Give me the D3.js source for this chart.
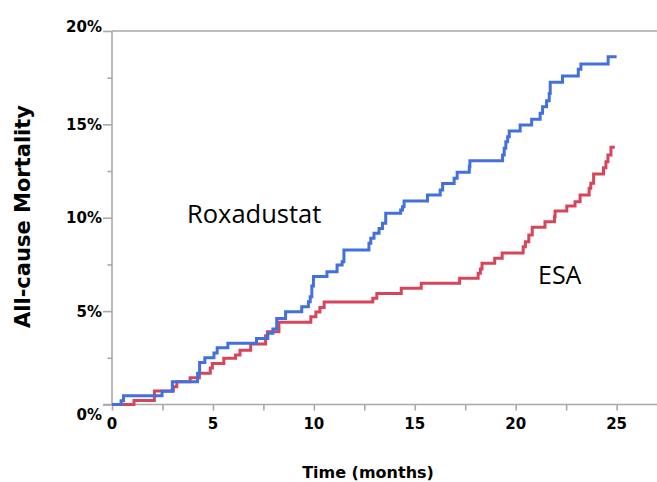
<!DOCTYPE html>
<html>
<head>
<meta charset="utf-8">
<script src="https://cdn.jsdelivr.net/npm/d3@7"></script>
<style>
  html, body { margin: 0; padding: 0; background: #fff; }
  svg { display: block; }
</style>
</head>
<body>
<svg id="chart" width="657" height="482"></svg>
<script>
// Cumulative all-cause mortality (%) by month, Kaplan-Meier style steps
const roxaTimes = [0, 0.45, 0.57, 2.48, 2.99, 4.24, 4.34, 4.6, 5.05, 5.21, 5.74, 7.16, 7.72, 7.97, 8.16, 8.6,
  9.4, 9.73, 9.82, 9.9, 9.98, 10.65, 11.15, 11.4, 11.49, 12.73, 12.82, 12.98, 13.23, 13.4, 13.56,
  14.3, 14.39, 14.47, 15.63, 16.26, 16.38, 16.95, 17.1, 17.7, 17.73, 19.35, 19.43, 19.51, 19.6, 19.68,
  20.22, 20.79, 21.21, 21.33, 21.53, 21.66, 21.71, 22.32, 23.1, 23.23, 24.58, 25.0];
const roxaMortality = [0, 0.2, 0.47, 0.71, 1.22, 1.67, 2.25, 2.5, 2.76, 3.04, 3.28, 3.54, 3.81, 4.04, 4.61, 4.97,
  5.23, 5.5, 5.77, 6.34, 6.85, 7.11, 7.47, 7.65, 8.27, 8.63, 8.9, 9.17, 9.43, 9.7, 10.24,
  10.41, 10.59, 10.9, 11.22, 11.49, 11.84, 12.11, 12.43, 12.73, 13.05, 13.36, 13.72, 14.07, 14.34, 14.65,
  14.97, 15.27, 15.59, 15.95, 16.27, 16.66, 17.25, 17.59, 17.95, 18.23, 18.62, 18.62];

const esaTimes = [0, 1.09, 2.1, 3.04, 3.21, 3.87, 4.33, 4.87, 4.97, 5.54, 6.12, 6.34, 6.87, 7.61, 7.7, 8.27,
  9.85, 10.1, 10.3, 10.51, 12.92, 13.12, 14.33, 15.32, 17.22, 18.14, 18.25, 18.33, 18.96, 19.33,
  20.37, 20.48, 20.65, 20.82, 21.45, 21.92, 21.95, 22.53, 22.94, 23.19, 23.64, 23.72, 23.86,
  24.35, 24.47, 24.57, 24.72, 24.91];
const esaMortality = [0, 0.21, 0.72, 0.95, 1.22, 1.43, 1.67, 1.95, 2.2, 2.47, 2.65, 2.91, 3.24, 3.68, 3.9, 4.4,
  4.7, 4.95, 5.19, 5.49, 5.69, 5.95, 6.22, 6.49, 6.76, 7.03, 7.26, 7.56, 7.83, 8.11,
  8.45, 8.72, 9.08, 9.49, 9.79, 10.06, 10.36, 10.63, 10.86, 11.22, 11.58, 11.85, 12.34,
  12.68, 13.0, 13.36, 13.77, 13.77];

const xMajorTicks = [0, 5, 10, 15, 20, 25];
const xMinorTicks = [2.5, 7.5, 12.5, 17.5, 22.5];
const yMajorTicks = [0, 5, 10, 15, 20];
const yMinorTicks = [2.5, 7.5, 12.5, 17.5];
const yTickLabels = ["0%", "5%", "10%", "15%", "20%"];

const seriesNames = ["Roxadustat", "ESA"];
const seriesColors = ["#4270dd", "#d6455a"];

const svg = d3.select("#chart");
const axisColor = "#a9a9a9";

const x = d3.scaleLinear().domain([0, 27]).range([112, 657]);
const y = d3.scaleLinear().domain([0, 20]).range([404.5, 31]);

// frame: top border
svg.append("line")
  .attr("x1", x(0)).attr("x2", 657)
  .attr("y1", y(20)).attr("y2", y(20))
  .attr("stroke", axisColor).attr("stroke-width", 1.6);

// y axis
const yAxisMajor = d3.axisLeft(y).tickValues(yMajorTicks).tickSize(9).tickFormat("");
const yAxisMinor = d3.axisLeft(y).tickValues(yMinorTicks).tickSize(4.5).tickFormat("");
const gy = svg.append("g").attr("transform", `translate(${x(0)},0)`).call(yAxisMajor);
svg.append("g").attr("transform", `translate(${x(0)},0)`).call(yAxisMinor).select(".domain").remove();
gy.select(".domain").attr("d", `M0,${y(0)}V${y(20)}`);

// x axis
const xAxisMajor = d3.axisBottom(x).tickValues(xMajorTicks).tickSize(6).tickFormat("");
const xAxisMinor = d3.axisBottom(x).tickValues(xMinorTicks).tickSize(6).tickFormat("");
const gx = svg.append("g").attr("transform", `translate(0,${y(0)})`).call(xAxisMajor);
svg.append("g").attr("transform", `translate(0,${y(0)})`).call(xAxisMinor).select(".domain").remove();
gx.select(".domain").attr("d", `M${x(0) - 9},0H657`);

svg.selectAll(".tick line, .domain")
  .attr("stroke", axisColor).attr("stroke-width", 1.6);

// tick labels
const tickFont = "DejaVu Sans, Verdana, sans-serif";
const yLabelOffset = { 0: 10, 20: -4 };
svg.append("g").selectAll("text")
  .data(yMajorTicks)
  .join("text")
  .attr("x", x(0) - 10)
  .attr("y", d => y(d) + (yLabelOffset[d] || 0))
  .attr("dy", "0.36em")
  .attr("text-anchor", "end")
  .attr("font-family", tickFont)
  .attr("font-weight", "bold")
  .attr("font-size", 15)
  .attr("fill", "#000")
  .text((d, i) => yTickLabels[i]);

svg.append("g").selectAll("text")
  .data(xMajorTicks)
  .join("text")
  .attr("x", d => x(d))
  .attr("y", 429)
  .attr("text-anchor", "middle")
  .attr("font-family", tickFont)
  .attr("font-weight", "bold")
  .attr("font-size", 15)
  .attr("fill", "#000")
  .text(d => d);

// axis titles
svg.append("text")
  .attr("transform", `translate(30,216.5) rotate(-90)`)
  .attr("text-anchor", "middle")
  .attr("font-family", tickFont)
  .attr("font-weight", "bold")
  .attr("font-size", 21)
  .attr("fill", "#000")
  .text("All-cause Mortality");

svg.append("text")
  .attr("x", 368).attr("y", 478)
  .attr("text-anchor", "middle")
  .attr("font-family", tickFont)
  .attr("font-weight", "bold")
  .attr("font-size", 16)
  .attr("fill", "#000")
  .text("Time (months)");

// step curves
const line = d3.line()
  .x(d => x(d[0]))
  .y(d => y(d[1]))
  .curve(d3.curveStepAfter);

const series = [
  d3.zip(roxaTimes, roxaMortality),
  d3.zip(esaTimes, esaMortality)
];

// ESA first so Roxadustat sits on top where they overlap
[1, 0].forEach(i => {
  svg.append("path")
    .datum(series[i])
    .attr("fill", "none")
    .attr("stroke", seriesColors[i])
    .attr("stroke-width", 3)
    .attr("stroke-linejoin", "miter")
    .attr("d", line);
});

// in-plot series labels
const labelFont = "Open Sans, Noto Sans, sans-serif";
svg.append("text")
  .attr("x", 187).attr("y", 223)
  .attr("font-family", labelFont)
  .attr("font-size", 25.5)
  .attr("fill", "#000")
  .text(seriesNames[0]);

svg.append("text")
  .attr("x", 538).attr("y", 284)
  .attr("font-family", labelFont)
  .attr("font-size", 25)
  .attr("fill", "#000")
  .text(seriesNames[1]);
</script>
</body>
</html>
